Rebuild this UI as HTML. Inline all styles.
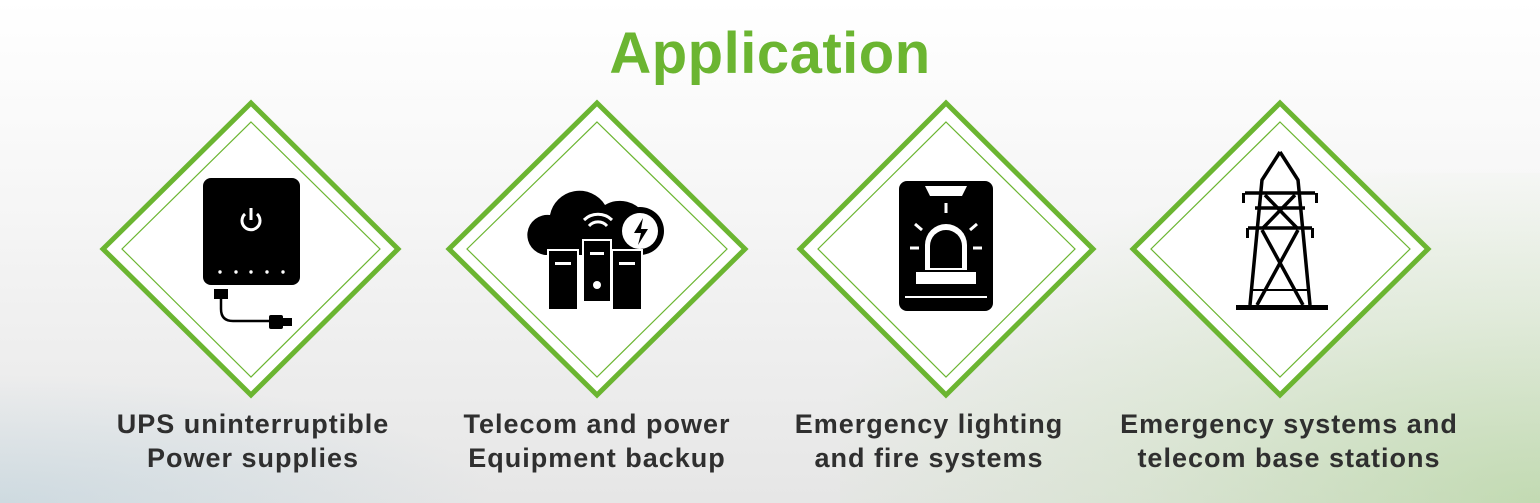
<!DOCTYPE html>
<html><head><meta charset="utf-8"><style>
html,body{margin:0;padding:0}
body{width:1540px;height:503px;overflow:hidden;position:relative;font-family:"Liberation Sans",sans-serif;
background:linear-gradient(180deg,#ffffff 0%,#f6f6f6 40%,#e6e6e6 100%);}
.bgg{position:absolute;right:0;bottom:0;width:700px;height:330px;
background:radial-gradient(ellipse at 100% 100%,rgba(140,200,100,.4) 0%,rgba(170,215,140,.22) 40%,rgba(255,255,255,0) 75%);}
.bgl{position:absolute;left:0;bottom:0;width:500px;height:130px;
background:radial-gradient(ellipse at 0% 100%,rgba(150,190,210,.3) 0%,rgba(255,255,255,0) 70%);}
h1{position:absolute;left:0;width:1540px;top:20px;margin:0;text-align:center;color:#6bb531;font-size:58px;font-weight:bold;letter-spacing:0.5px}
.lab{position:absolute;top:407px;width:440px;text-align:center;color:#2f2f2f;font-size:27px;font-weight:bold;line-height:34px;letter-spacing:1px}
svg{position:absolute;left:0;top:0}
</style></head><body>
<div class="bgg"></div><div class="bgl"></div>
<h1>Application</h1>
<svg width="1540" height="503">
<g fill="#fff" stroke="#6bb531">
<polygon points="251,103 398,249 251,395 103,249" stroke-width="5"/>
<polygon points="251,122 380,249 251,377 122,249" fill="none" stroke-width="1.2"/>
<polygon points="597,103 745,249 597,395 449,249" stroke-width="5"/>
<polygon points="597,122 727,249 597,377 467,249" fill="none" stroke-width="1.2"/>
<polygon points="946,103 1093,249 946,395 800,249" stroke-width="5"/>
<polygon points="946,122 1075,249 946,377 818,249" fill="none" stroke-width="1.2"/>
<polygon points="1280,103 1428,249 1280,395 1133,249" stroke-width="5"/>
<polygon points="1280,122 1410,249 1280,377 1151,249" fill="none" stroke-width="1.2"/>
</g>
<rect x="203" y="178" width="97" height="107" rx="8" fill="#000"/>
<path d="M245,214 a9,9 0 1 0 12,0" fill="none" stroke="#fff" stroke-width="3"/>
<line x1="251" y1="208" x2="251" y2="220" stroke="#fff" stroke-width="3"/>
<g fill="#fff"><circle cx="220" cy="272" r="1.7"/><circle cx="236" cy="272" r="1.7"/><circle cx="251" cy="272" r="1.7"/><circle cx="267" cy="272" r="1.7"/><circle cx="283" cy="272" r="1.7"/></g>
<rect x="214" y="289" width="14" height="10" fill="#000"/>
<path d="M221,299 v10 q0,12 12,12 h38" fill="none" stroke="#000" stroke-width="2.5"/>
<rect x="269" y="315" width="14" height="14" rx="2" fill="#000"/><rect x="282" y="318" width="10" height="8" fill="#000"/>
<path d="M545,255 a20,20 0 0 1 5,-40 a30,30 0 0 1 55,-10 a22,22 0 0 1 30,50 z" fill="#000"/>
<circle cx="640" cy="231" r="24" fill="#000"/><circle cx="640" cy="231" r="18" fill="#fff"/>
<path d="M643,218 l-9,15 h7 l-3,12 l10,-16 h-7 z" fill="#000"/>
<path d="M584,220 a20,20 0 0 1 28,0 M589,226 a12,12 0 0 1 18,0" fill="none" stroke="#fff" stroke-width="3"/>
<rect x="548" y="250" width="30" height="60" fill="#000" stroke="#fff" stroke-width="2"/>
<rect x="612" y="250" width="30" height="60" fill="#000" stroke="#fff" stroke-width="2"/>
<rect x="583" y="240" width="28" height="62" fill="#000" stroke="#fff" stroke-width="2"/>
<g fill="#fff"><rect x="555" y="262" width="16" height="3"/><rect x="619" y="262" width="16" height="3"/><rect x="590" y="252" width="14" height="3"/><circle cx="597" cy="285" r="4"/></g>
<rect x="899" y="181" width="94" height="130" rx="8" fill="#000"/>
<path d="M925,186 h42 l-5,10 h-32 z" fill="#fff"/>
<path d="M925,270 v-25 a21,21 0 0 1 42,0 v25 z" fill="#fff"/>
<path d="M930,268 v-22 a16,16 0 0 1 32,0 v22 z" fill="#000"/>
<rect x="916" y="272" width="60" height="12" fill="#fff"/>
<g stroke="#fff" stroke-width="3"><line x1="946" y1="203" x2="946" y2="213"/><line x1="915" y1="224" x2="922" y2="230"/><line x1="977" y1="224" x2="970" y2="230"/><line x1="910" y1="248" x2="919" y2="248"/><line x1="973" y1="248" x2="982" y2="248"/></g>
<rect x="905" y="296" width="82" height="2" fill="#fff"/>
<g stroke="#000" stroke-width="3.5" fill="none">
<path d="M1280,152 L1262,180 L1250,305 M1280,152 L1298,180 L1310,305"/>
<path d="M1245,193 h70 M1248,228 h64 M1255,208 h50"/>
<path d="M1265,195 L1297,228 M1295,195 L1263,228 M1262,230 L1303,305 M1298,230 L1257,305"/>
<path d="M1253,290 h54" stroke-width="2"/>
</g>
<rect x="1236" y="305" width="92" height="5" fill="#000"/>
<g fill="#000"><rect x="1242" y="193" width="3" height="10"/><rect x="1315" y="193" width="3" height="10"/><rect x="1246" y="228" width="3" height="10"/><rect x="1311" y="228" width="3" height="10"/></g>
</svg>
<div class="lab" style="left:33px">UPS uninterruptible<br>Power supplies</div>
<div class="lab" style="left:377px">Telecom and power<br>Equipment backup</div>
<div class="lab" style="left:709px">Emergency lighting<br>and fire systems</div>
<div class="lab" style="left:1069px">Emergency systems and<br>telecom base stations</div>
</body></html>
